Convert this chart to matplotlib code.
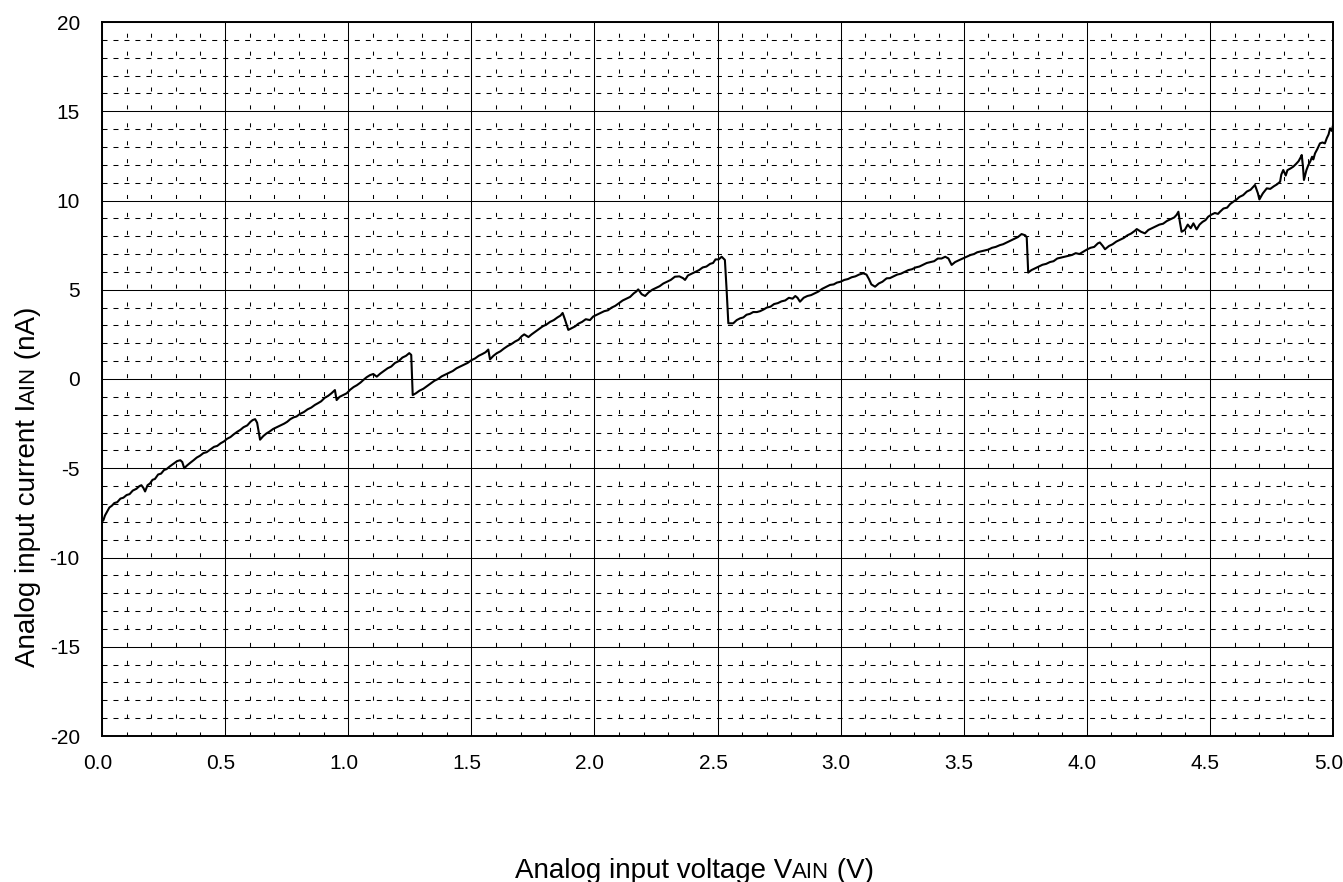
import matplotlib
matplotlib.use("Agg")
import matplotlib.pyplot as plt
from matplotlib.ticker import MultipleLocator, FormatStrFormatter
from matplotlib.transforms import ScaledTranslation

plt.rcParams["font.family"] = ["Liberation Sans", "DejaVu Sans"]
plt.rcParams["axes.unicode_minus"] = False
plt.rcParams["lines.scale_dashes"] = False

# analog input voltage (V) and current (nA)
v_ain = [
    0.000, 0.006, 0.012, 0.020, 0.030, 0.040, 0.050, 0.062, 0.075, 0.087,
    0.100, 0.112, 0.125, 0.140, 0.152, 0.160, 0.168, 0.175, 0.185, 0.195,
    0.205, 0.215, 0.228, 0.240, 0.252, 0.262, 0.275, 0.290, 0.305, 0.318,
    0.326, 0.334, 0.345, 0.358, 0.372, 0.385, 0.398, 0.412, 0.425, 0.440,
    0.455, 0.468, 0.482, 0.495, 0.508, 0.522, 0.535, 0.550, 0.562, 0.575,
    0.590, 0.603, 0.612, 0.622, 0.630, 0.642, 0.655, 0.668, 0.680, 0.695,
    0.710, 0.725, 0.740, 0.752, 0.765, 0.778, 0.790, 0.805, 0.820, 0.835,
    0.850, 0.865, 0.878, 0.890, 0.905, 0.918, 0.932, 0.946, 0.953, 0.965,
    0.980, 0.994, 1.008, 1.022, 1.035, 1.050, 1.062, 1.075, 1.089, 1.102,
    1.116, 1.130, 1.145, 1.160, 1.175, 1.190, 1.205, 1.220, 1.235, 1.248,
    1.256, 1.262, 1.275, 1.290, 1.305, 1.320, 1.335, 1.350, 1.365, 1.380,
    1.395, 1.410, 1.425, 1.440, 1.455, 1.470, 1.485, 1.500, 1.515, 1.530,
    1.545, 1.558, 1.569, 1.576, 1.590, 1.603, 1.618, 1.632, 1.648, 1.662,
    1.678, 1.692, 1.705, 1.715, 1.732, 1.745, 1.760, 1.775, 1.790, 1.805,
    1.820, 1.835, 1.850, 1.862, 1.871, 1.880, 1.894, 1.908, 1.922, 1.935,
    1.950, 1.965, 1.982, 1.995, 2.010, 2.025, 2.040, 2.055, 2.070, 2.085,
    2.100, 2.115, 2.130, 2.145, 2.160, 2.170, 2.178, 2.192, 2.206, 2.220,
    2.235, 2.250, 2.265, 2.280, 2.295, 2.310, 2.327, 2.345, 2.360, 2.368,
    2.380, 2.395, 2.410, 2.425, 2.440, 2.455, 2.470, 2.482, 2.492, 2.505,
    2.517, 2.530, 2.537, 2.544, 2.564, 2.578, 2.592, 2.605, 2.618, 2.632,
    2.645, 2.660, 2.673, 2.688, 2.700, 2.715, 2.730, 2.745, 2.760, 2.775,
    2.790, 2.805, 2.816, 2.825, 2.835, 2.850, 2.865, 2.880, 2.895, 2.910,
    2.925, 2.940, 2.957, 2.972, 2.985, 3.000, 3.015, 3.030, 3.045, 3.060,
    3.075, 3.092, 3.105, 3.115, 3.125, 3.140, 3.155, 3.170, 3.187, 3.200,
    3.215, 3.230, 3.245, 3.260, 3.275, 3.290, 3.305, 3.320, 3.335, 3.350,
    3.365, 3.380, 3.395, 3.410, 3.425, 3.438, 3.451, 3.465, 3.480, 3.498,
    3.512, 3.528, 3.542, 3.555, 3.570, 3.585, 3.600, 3.615, 3.630, 3.647,
    3.660, 3.675, 3.690, 3.705, 3.720, 3.735, 3.750, 3.756, 3.762, 3.775,
    3.790, 3.805, 3.820, 3.835, 3.850, 3.865, 3.880, 3.895, 3.910, 3.925,
    3.940, 3.955, 3.970, 3.986, 4.000, 4.015, 4.030, 4.045, 4.053, 4.065,
    4.074, 4.090, 4.105, 4.120, 4.135, 4.150, 4.165, 4.180, 4.195, 4.203,
    4.220, 4.236, 4.250, 4.265, 4.280, 4.295, 4.310, 4.325, 4.340, 4.355,
    4.365, 4.372, 4.378, 4.385, 4.398, 4.410, 4.422, 4.433, 4.446, 4.458,
    4.470, 4.482, 4.493, 4.505, 4.520, 4.533, 4.541, 4.555, 4.570, 4.582,
    4.595, 4.608, 4.620, 4.635, 4.650, 4.665, 4.675, 4.683, 4.695, 4.701,
    4.715, 4.731, 4.745, 4.760, 4.772, 4.785, 4.790, 4.798, 4.808, 4.815,
    4.828, 4.839, 4.850, 4.860, 4.868, 4.873, 4.878, 4.882, 4.892, 4.900,
    4.908, 4.915, 4.920, 4.927, 4.937, 4.947, 4.957, 4.967, 4.975, 4.982,
    4.988, 4.995, 5.000,
]
i_ain = [
    -8.00, -7.90, -7.65, -7.45, -7.20, -7.10, -6.95, -6.90, -6.70, -6.65,
    -6.50, -6.45, -6.25, -6.15, -6.00, -5.95, -6.10, -6.30, -5.95, -5.85,
    -5.65, -5.60, -5.35, -5.30, -5.10, -5.05, -4.90, -4.75, -4.60, -4.55,
    -4.65, -5.00, -4.85, -4.70, -4.55, -4.40, -4.30, -4.15, -4.10, -3.95,
    -3.80, -3.75, -3.60, -3.50, -3.35, -3.25, -3.10, -2.95, -2.85, -2.70,
    -2.60, -2.40, -2.30, -2.25, -2.45, -3.40, -3.20, -3.05, -2.95, -2.80,
    -2.70, -2.60, -2.50, -2.40, -2.25, -2.15, -2.10, -1.95, -1.85, -1.70,
    -1.60, -1.45, -1.35, -1.25, -1.05, -0.95, -0.80, -0.62, -1.18, -1.00,
    -0.90, -0.80, -0.60, -0.45, -0.35, -0.20, -0.05, 0.10, 0.22, 0.28,
    0.13, 0.30, 0.45, 0.60, 0.70, 0.90, 1.00, 1.20, 1.30, 1.45,
    1.35, -0.90, -0.80, -0.65, -0.55, -0.40, -0.25, -0.10, 0.00, 0.15,
    0.25, 0.35, 0.45, 0.60, 0.70, 0.80, 0.90, 1.05, 1.15, 1.30,
    1.40, 1.50, 1.65, 1.10, 1.30, 1.44, 1.55, 1.70, 1.85, 1.95,
    2.10, 2.20, 2.40, 2.50, 2.35, 2.50, 2.65, 2.80, 2.95, 3.05,
    3.20, 3.30, 3.45, 3.55, 3.70, 3.35, 2.75, 2.85, 2.95, 3.10,
    3.20, 3.35, 3.30, 3.50, 3.60, 3.70, 3.80, 3.85, 4.00, 4.10,
    4.25, 4.40, 4.50, 4.60, 4.80, 4.90, 5.02, 4.75, 4.65, 4.85,
    5.00, 5.10, 5.20, 5.35, 5.45, 5.55, 5.73, 5.75, 5.65, 5.55,
    5.80, 5.90, 6.00, 6.10, 6.25, 6.30, 6.45, 6.50, 6.70, 6.70,
    6.85, 6.67, 5.00, 3.12, 3.12, 3.30, 3.40, 3.45, 3.60, 3.65,
    3.75, 3.75, 3.80, 3.90, 4.00, 4.05, 4.20, 4.25, 4.35, 4.40,
    4.55, 4.50, 4.65, 4.55, 4.33, 4.55, 4.65, 4.70, 4.80, 4.90,
    5.05, 5.15, 5.27, 5.30, 5.40, 5.45, 5.55, 5.60, 5.70, 5.75,
    5.85, 5.92, 5.85, 5.60, 5.30, 5.17, 5.35, 5.45, 5.64, 5.65,
    5.75, 5.85, 5.90, 6.00, 6.10, 6.15, 6.25, 6.30, 6.40, 6.50,
    6.55, 6.60, 6.75, 6.75, 6.85, 6.75, 6.39, 6.55, 6.65, 6.76,
    6.85, 6.95, 7.00, 7.10, 7.15, 7.20, 7.25, 7.35, 7.40, 7.50,
    7.55, 7.65, 7.75, 7.85, 7.95, 8.12, 8.05, 7.93, 5.96, 6.10,
    6.20, 6.30, 6.40, 6.45, 6.55, 6.60, 6.75, 6.80, 6.85, 6.90,
    6.95, 7.05, 7.00, 7.13, 7.25, 7.35, 7.40, 7.60, 7.65, 7.45,
    7.27, 7.45, 7.55, 7.70, 7.80, 7.90, 8.05, 8.15, 8.30, 8.40,
    8.25, 8.16, 8.35, 8.45, 8.55, 8.65, 8.70, 8.85, 8.95, 9.05,
    9.20, 9.37, 8.80, 8.25, 8.35, 8.65, 8.45, 8.72, 8.38, 8.65,
    8.80, 8.90, 9.09, 9.20, 9.30, 9.25, 9.37, 9.55, 9.60, 9.80,
    9.93, 10.05, 10.20, 10.30, 10.50, 10.60, 10.75, 10.87, 10.40, 10.06,
    10.40, 10.68, 10.65, 10.80, 10.90, 11.05, 11.45, 11.71, 11.40, 11.70,
    11.80, 11.90, 12.05, 12.20, 12.40, 12.55, 11.90, 11.15, 11.70, 11.99,
    12.20, 12.45, 12.30, 12.64, 12.90, 13.20, 13.25, 13.20, 13.50, 13.70,
    14.04, 13.90, 14.20,
]

W, H = 1343, 882
fig = plt.figure(figsize=(W / 100, H / 100), dpi=100)
ax = fig.add_axes([102 / W, 1 - 736 / H, 1231 / W, 714 / H])

ax.plot(v_ain, i_ain, color="black", lw=1.5, zorder=3)

ax.set_xlim(0, 5)
ax.set_ylim(-20, 20)
ax.xaxis.set_major_locator(MultipleLocator(0.5))
ax.xaxis.set_minor_locator(MultipleLocator(0.1))
ax.yaxis.set_major_locator(MultipleLocator(5))
ax.yaxis.set_minor_locator(MultipleLocator(1))
ax.xaxis.set_major_formatter(FormatStrFormatter("%.1f"))

ax.grid(which="major", color="black", lw=0.75, ls="-")
ax.xaxis.grid(which="minor", color="black", lw=0.75, ls=(0, (2.9, 10)))
ax.yaxis.grid(which="minor", color="black", lw=0.75, ls=(0, (3.6, 4.3)))
ax.tick_params(which="both", length=0, labelsize=15)
ax.tick_params(axis="x", pad=13)
ax.tick_params(axis="y", pad=16)
for sp in ax.spines.values():
    sp.set_linewidth(1.4)

# x tick labels sit a few pixels left of their grid lines in the original
shift = ScaledTranslation(-0.045, 0, fig.dpi_scale_trans)
for lbl in ax.xaxis.get_majorticklabels():
    lbl.set_transform(lbl.get_transform() + shift)

renderer = fig.canvas.get_renderer()


def rich_label(pieces, x_px, y_px, vertical=False):
    # text pieces on one baseline; "AIN" is set smaller like small caps
    pos = x_px if not vertical else y_px
    for txt, size in pieces:
        if vertical:
            t = fig.text(x_px / W, 1 - pos / H, txt, fontsize=size,
                         rotation=90, rotation_mode="anchor",
                         ha="left", va="baseline")
            pos -= t.get_window_extent(renderer).height
        else:
            t = fig.text(pos / W, 1 - y_px / H, txt, fontsize=size,
                         ha="left", va="baseline")
            pos += t.get_window_extent(renderer).width


xl_pieces = [("Analog input voltage V", 20), ("AIN", 16), (" (V)", 20)]
yl_pieces = [("Analog input current I", 20), ("AIN", 16), (" (nA)", 20)]

rich_label(xl_pieces, 515, 878)
rich_label(yl_pieces, 35, 667, vertical=True)

fig.savefig("out.png", dpi=100)
